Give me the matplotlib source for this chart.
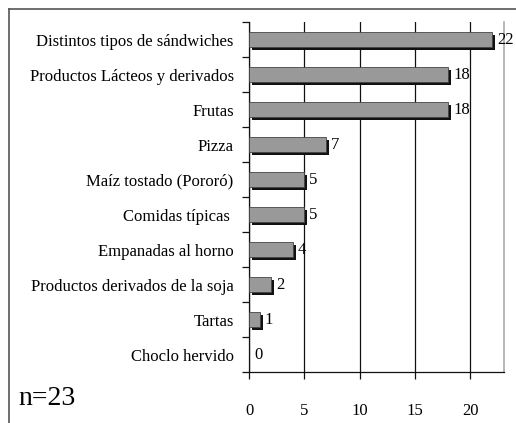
import matplotlib
matplotlib.use("Agg")
import matplotlib.pyplot as plt
from matplotlib.patches import Rectangle
from matplotlib.lines import Line2D
import matplotlib.transforms as mtrans

categories = ["Distintos tipos de sándwiches", "Productos Lácteos y derivados", "Frutas",
              "Pizza", "Maíz tostado (Pororó)", "Comidas típicas ", "Empanadas al horno",
              "Productos derivados de la soja", "Tartas", "Choclo hervido"]
values = [22, 18, 18, 7, 5, 5, 4, 2, 1, 0]
xticks = [0, 5, 10, 15, 20]
note = "n=23"

plt.rcParams['font.family'] = ['Liberation Serif', 'DejaVu Serif']

W, H = 516, 423
fig = plt.figure(figsize=(W / 100, H / 100), dpi=100)
fig.patch.set_facecolor("white")

# outer frame (left and top edges visible)
fig.add_artist(Line2D([9 / W, 9 / W], [0, 1 - 9 / H], color="#555555", lw=1.2))
fig.add_artist(Line2D([9 / W, 1], [1 - 9 / H, 1 - 9 / H], color="#555555", lw=1.2))

left, right, top, bottom = 249, 504, 22, 372
ax = fig.add_axes([left / W, 1 - bottom / H, (right - left) / W, (bottom - top) / H])
ax.set_xlim(0, 23.05)
n = len(categories)
ax.set_ylim(n, 0)

ax.set_xticks(xticks)
ax.set_xticklabels([str(t) for t in xticks], fontsize=12)
ax.xaxis.grid(True, color="#111111", lw=0.9)
ax.set_axisbelow(True)
ax.tick_params(axis="x", length=5, width=0.9, color="#111111", pad=17)

ax.set_yticks([i for i in range(n + 1)], minor=True)
ax.set_yticks([i + 0.5 for i in range(n)])
ax.set_yticklabels(categories, fontsize=12)
ax.tick_params(axis="y", which="major", length=0, pad=11)
ax.tick_params(axis="y", which="minor", length=5, width=0.9, color="#111111")

for s in ["left", "bottom"]:
    ax.spines[s].set_color("#111111")
    ax.spines[s].set_linewidth(0.9)
ax.spines["top"].set_visible(False)
ax.spines["right"].set_color("#aaaaaa")
ax.spines["right"].set_linewidth(1.2)

bh = 0.43
shadow = mtrans.offset_copy(ax.transData, fig=fig, x=2.5, y=-3.2, units="dots")
for i, v in enumerate(values):
    y0 = i + 0.5 - bh / 2
    if v > 0:
        ax.add_patch(Rectangle((0, y0), v, bh, facecolor="#111111", edgecolor="none",
                               transform=shadow, zorder=2))
        ax.add_patch(Rectangle((0, y0), v, bh, facecolor="#999999", edgecolor="#444444",
                               lw=0.6, zorder=3))
    ax.annotate(str(v), (v, i + 0.5), xytext=(3.5 if v > 0 else 4, 0),
                textcoords="offset points", va="center", ha="left", fontsize=12, zorder=4)

fig.text(18 / W, 1 - 398 / H, note, fontsize=20, va="center", ha="left")

fig.savefig("out.png", dpi=100)
